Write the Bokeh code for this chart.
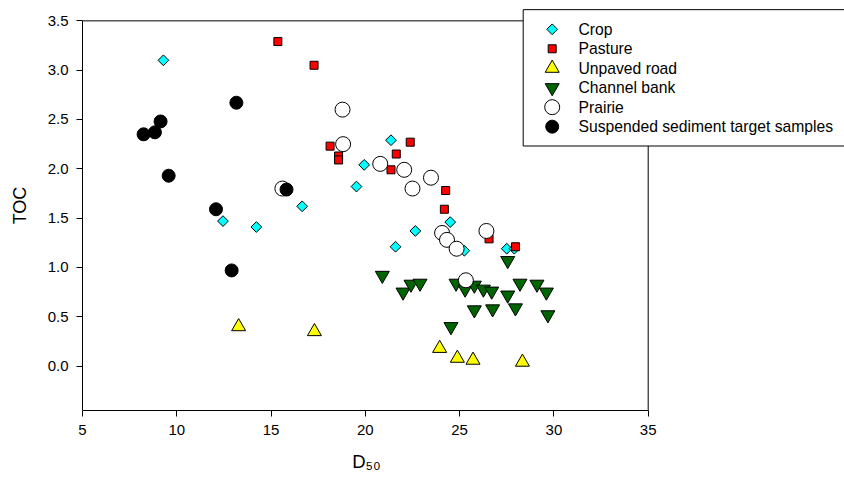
import math
from bokeh.plotting import figure
from bokeh.models import FixedTicker, NumeralTickFormatter, Range1d, Title
from bokeh.core.properties import value
from bokeh.embed import file_html
from bokeh.resources import INLINE

# ---- data ----
crop_x = [9.29, 12.45, 14.22, 16.65, 19.53, 19.94, 21.36, 21.6, 22.65, 24.5, 25.25, 27.5, 27.9]
crop_y = [3.10, 1.47, 1.41, 1.62, 1.82, 2.04, 2.29, 1.21, 1.37, 1.46, 1.17, 1.19, 1.19]

pasture_x = [15.36, 17.28, 18.13, 18.58, 18.58, 22.38, 21.64, 21.36, 24.26, 24.19, 26.56, 27.96]
pasture_y = [3.29, 3.05, 2.23, 2.13, 2.09, 2.27, 2.15, 1.99, 1.78, 1.59, 1.29, 1.21]

road_x = [13.28, 17.3, 23.94, 24.88, 25.71, 28.33]
road_y = [0.40, 0.35, 0.18, 0.08, 0.06, 0.04]

bank_x = [20.9, 22.0, 22.42, 22.9, 24.54, 24.81, 25.29, 25.78, 25.78, 26.26, 26.7, 26.75,
          27.55, 27.55, 27.96, 28.2, 29.1, 29.6, 29.68]
bank_y = [0.92, 0.75, 0.83, 0.84, 0.40, 0.84, 0.78, 0.82, 0.57, 0.78, 0.76, 0.58,
          1.07, 0.72, 0.59, 0.84, 0.83, 0.75, 0.52]

prairie_x = [18.79, 18.82, 15.6, 20.79, 22.06, 23.48, 22.5, 24.07, 24.33, 24.84, 26.42, 25.33]
prairie_y = [2.60, 2.25, 1.80, 2.05, 1.99, 1.91, 1.80, 1.35, 1.28, 1.19, 1.37, 0.87]

susp_x = [8.24, 8.84, 9.14, 9.57, 13.16, 12.08, 15.82, 12.91]
susp_y = [2.35, 2.37, 2.48, 1.93, 2.67, 1.59, 1.79, 0.97]

x_ticks = [5, 10, 15, 20, 25, 30, 35]
y_ticks = [0.0, 0.5, 1.0, 1.5, 2.0, 2.5, 3.0, 3.5]
x_lim = (5, 35)
y_lim = (-0.45, 3.5)

labels = ["Crop", "Pasture", "Unpaved road", "Channel bank", "Prairie",
          "Suspended sediment target samples"]

FONT = "Liberation Sans"

# ---- layout (pixels) ----
W, H = 844, 486
left_px, right_box_px, top_box_px, bottom_px = 82, 647.7, 20.7, 417
xs = (right_box_px - left_px) / (x_lim[1] - x_lim[0])
ys = (bottom_px - top_box_px) / (y_lim[1] - y_lim[0])
x_end = x_lim[0] + (W - left_px) / xs
y_end = y_lim[1] + top_box_px / ys


def px_x(px):
    return x_lim[0] + (px - left_px) / xs


def px_y(py):
    return y_lim[1] - (py - top_box_px) / ys


p = figure(width=W, height=H, output_backend="svg", toolbar_location=None,
           x_range=Range1d(x_lim[0], x_end), y_range=Range1d(y_lim[0], y_end),
           min_border_left=left_px, min_border_right=0, min_border_top=0,
           min_border_bottom=H - bottom_px)

p.xgrid.visible = False
p.ygrid.visible = False
p.outline_line_color = None
p.background_fill_color = "white"
p.border_fill_color = "white"

for ax in (p.xaxis[0], p.yaxis[0]):
    ax.axis_line_color = "black"
    ax.major_tick_line_color = "black"
    ax.minor_tick_line_color = None
    ax.major_tick_in = 0
    ax.major_tick_out = 6
    ax.major_label_text_font = FONT
    ax.major_label_text_font_size = "15px"
    ax.major_label_text_color = "black"
    ax.axis_label_text_font = FONT
    ax.axis_label_text_font_style = "normal"
    ax.axis_label_text_color = "black"

p.xaxis.bounds = x_lim
p.yaxis.bounds = y_lim
p.xaxis.ticker = FixedTicker(ticks=x_ticks)
p.yaxis.ticker = FixedTicker(ticks=y_ticks)
p.yaxis.formatter = NumeralTickFormatter(format="0.0")
p.xaxis.major_label_standoff = 8
p.yaxis.major_label_standoff = 8

p.yaxis.axis_label = "TOC"
p.yaxis.axis_label_text_font_size = "18px"
p.yaxis.axis_label_standoff = 15

# x-axis title, centred under the axes box (not under the widened frame)
xtitle = Title(text="D\u2085\u2080", align="left", offset=269.7, vertical_align="top",
               standoff=26, text_font=FONT, text_font_size="18.5px",
               text_font_style="normal", text_color="black")
p.add_layout(xtitle, "below")

# top and right sides of the axes box
p.line([x_lim[0], x_lim[1], x_lim[1]], [y_lim[1], y_lim[1], y_lim[0]],
       line_color="black", line_width=1)

styles = [
    dict(marker="square", angle=math.pi / 4, size=7.6, fill_color="#00FFFF"),
    dict(marker="square", size=8, fill_color="#FF0000"),
    dict(marker="triangle", size=14, fill_color="#FFFF00"),
    dict(marker="inverted_triangle", size=14, fill_color="#006400"),
    dict(marker="circle", size=15, fill_color="white"),
    dict(marker="circle", size=13, fill_color="black"),
]
series = [(crop_x, crop_y), (pasture_x, pasture_y), (road_x, road_y),
          (bank_x, bank_y), (prairie_x, prairie_y), (susp_x, susp_y)]

for (sx, sy), st in zip(series, styles):
    p.scatter(sx, sy, line_color="black", line_width=1, **st)

# ---- legend box (drawn with the plot's own scales) ----
leg_left, leg_top, leg_bottom = 522.7, 9.3, 148
leg_mark_px, leg_text_px = 551.7, 578
leg_row0, leg_pitch = 29.3, 19.8

p.quad(left=[px_x(leg_left)], right=[px_x(W + 20)], top=[px_y(leg_top)],
       bottom=[px_y(leg_bottom)], fill_color="white", line_color="black", line_width=1)

rows = [px_y(leg_row0 + i * leg_pitch) for i in range(len(labels))]
for i, st in enumerate(styles):
    p.scatter([px_x(leg_mark_px)], [rows[i]], line_color="black", line_width=1, **st)

p.text(x=[px_x(leg_text_px)] * len(labels), y=rows, text=labels,
       text_font=value(FONT), text_font_size=value("15.7px"), text_color="black",
       text_align="left", text_baseline="middle")

open("out.html", "w").write(file_html(p, INLINE))
